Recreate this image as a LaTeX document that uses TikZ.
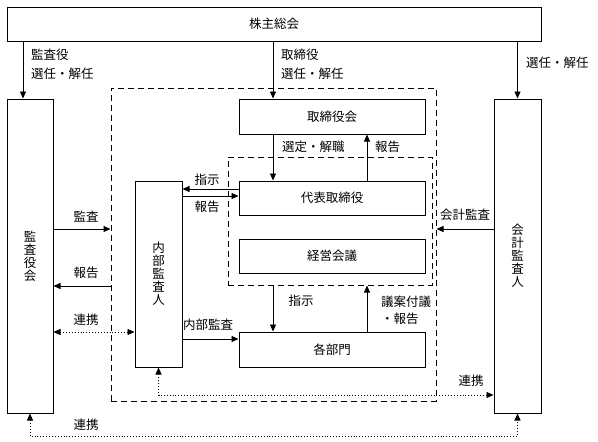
\documentclass[tikz,border=0pt]{standalone}
\usepackage{fontspec}
\newfontfamily\jpfont{Noto Sans CJK JP}
\usetikzlibrary{arrows.meta}

\tikzset{
  box/.style={draw, line width=1pt, inner sep=0pt},
  vbox/.style={box, align=center, font=\jpfont\fontsize{12.5}{13}\selectfont},
  grp/.style={draw, line width=1pt, dash pattern=on 6pt off 4pt, inner sep=0pt},
  arr/.style={line width=0.9pt, -{Triangle[length=7pt,width=6pt]}},
  link/.style={line width=0.9pt, dotted, {Triangle[length=7pt,width=6pt]}-{Triangle[length=7pt,width=6pt]}},
  lbl/.style={inner sep=0pt},
}

\begin{document}
\begin{tikzpicture}[x=1pt,y=-1pt,font=\jpfont\fontsize{12.5}{15}\selectfont]
\useasboundingbox (0,0) rectangle (598,442);
%\draw[step=10,gray,very thin] (0,0) grid (598,442);

% columns and rows
\coordinate (colK) at (23,0);
\coordinate (colA) at (273,0);
\coordinate (colB) at (367,0);
\coordinate (r189) at (0,189);
\coordinate (r196) at (0,196);
\coordinate (r229) at (0,229);
\coordinate (r286) at (0,286);
\coordinate (r332) at (0,332);
\coordinate (r339) at (0,339);
\coordinate (r395) at (0,395);
\coordinate (r436) at (0,436);

% dashed groups
\node[grp, minimum width=325pt, minimum height=313pt] (group) at (273.5,244.5) {};
\node[grp, minimum width=204pt, minimum height=128pt] (board) at (330,221) {};

% boxes
\node[box, minimum width=534pt, minimum height=34pt] (kabu) at (274,24) {株主総会};
\node[vbox, minimum width=46pt, minimum height=314pt] (kansa) at (30,256) {監\\査\\役\\会};
\node[vbox, minimum width=47pt, minimum height=314pt] (kaikei) at (517.5,256) {会\\計\\監\\査\\人};
\node[vbox, minimum width=47pt, minimum height=186pt] (naibu) at (158.5,274) {内\\部\\監\\査\\人};
\node[box, minimum width=186pt, minimum height=35pt] (torikai) at (332,116.5) {取締役会};
\node[box, minimum width=186pt, minimum height=34pt] (daihyo) at (332,198) {代表取締役};
\node[box, minimum width=186pt, minimum height=34pt] (keiei) at (332,256) {経営会議};
\node[box, minimum width=186pt, minimum height=35pt] (kakubu) at (332,349.5) {各部門};

% from 株主総会
\draw[arr] (kabu.south -| colK) -- (kansa.north -| colK);
\draw[arr] (kabu.south -| colA) -- (torikai.north -| colA);
\draw[arr] (kabu.south -| kaikei) -- (kaikei.north);
\node[lbl, anchor=west, align=left, font=\jpfont\fontsize{12.5}{19}\selectfont] (l1) at (31,64.5) {監査役\\選任・解任};
\node[lbl, anchor=west, align=left, font=\jpfont\fontsize{12.5}{19}\selectfont] (l2) at (281,64.5) {取締役\\選任・解任};
\node[lbl, anchor=west] (l3) at (526,63) {選任・解任};

% 取締役会 - 代表取締役
\draw[arr] (torikai.south -| colA) -- (daihyo.north -| colA);
\draw[arr] (daihyo.north -| colB) -- (torikai.south -| colB);
\node[lbl, anchor=west] (l4) at (282,147) {選定・解職};
\node[lbl, anchor=west] (l5) at (375,147) {報告};

% 代表取締役 - 内部監査人
\draw[arr] (daihyo.west |- r189) -- (naibu.east |- r189);
\draw[arr] (naibu.east |- r196) -- (daihyo.west |- r196);
\node[lbl] (l6) at (207,180) {指示};
\node[lbl] (l7) at (207,207) {報告};

% 監査役会
\draw[arr] (kansa.east |- r229) -- (group.west |- r229);
\draw[arr] (group.west |- r286) -- (kansa.east |- r286);
\draw[link] (kansa.east |- r332) -- (naibu.west |- r332);
\node[lbl] (l8) at (86,217) {監査};
\node[lbl] (l9) at (86,273) {報告};
\node[lbl] (l10) at (86,320) {連携};

% 各部門
\draw[arr] (naibu.east |- r339) -- (kakubu.west |- r339);
\draw[arr] (board.south -| colA) -- (kakubu.north -| colA);
\draw[arr] (kakubu.north -| colB) -- (board.south -| colB);
\node[lbl] (l11) at (208,325) {内部監査};
\node[lbl] (l12) at (301,301) {指示};
\node[lbl, anchor=west, align=left, font=\jpfont\fontsize{12.5}{17}\selectfont] (l13) at (381,310) {議案付議\\・報告};

% 会計監査人
\draw[arr] (kaikei.west |- r229) -- (group.east |- r229);
\node[lbl] (l14) at (465,215) {会計監査};
\draw[link] (naibu.south) -- (naibu.south |- r395) -- (kaikei.west |- r395);
\node[lbl] (l15) at (471,381) {連携};
\draw[link] (kansa.south) -- (kansa.south |- r436) -- (kaikei.south |- r436) -- (kaikei.south);
\node[lbl] (l16) at (86,425) {連携};
\end{tikzpicture}
\end{document}
